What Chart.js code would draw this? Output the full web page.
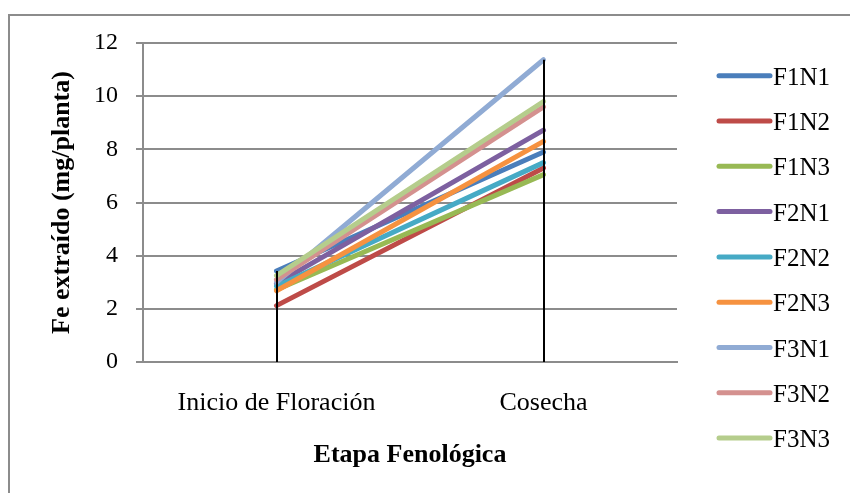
<!DOCTYPE html>
<html><head><meta charset="utf-8">
<script src="https://cdn.jsdelivr.net/npm/chart.js@4"></script>
<style>
html,body{margin:0;padding:0;background:#fff;overflow:hidden;width:850px;height:493px}
#frame{position:absolute;left:8px;top:14px;width:900px;height:600px;border-left:2px solid #8c8c8c;border-top:2px solid #8c8c8c}
#wrap{position:absolute;left:0;top:0;width:850px;height:493px}
</style></head><body>
<div id="frame"></div>
<div id="wrap"><canvas id="c" width="850" height="493"></canvas></div>
<script>
const categories = ['Inicio de Floración', 'Cosecha'];
const seriesNames = ['F1N1','F1N2','F1N3','F2N1','F2N2','F2N3','F3N1','F3N2','F3N3'];
const F1N1 = [3.42, 7.90];
const F1N2 = [2.12, 7.30];
const F1N3 = [2.72, 7.05];
const F2N1 = [2.95, 8.72];
const F2N2 = [2.85, 7.50];
const F2N3 = [2.68, 8.30];
const F3N1 = [3.00, 11.37];
const F3N2 = [3.10, 9.60];
const F3N3 = [3.25, 9.80];
const seriesValues = [F1N1, F1N2, F1N3, F2N1, F2N2, F2N3, F3N1, F3N2, F3N3];
const yTicks = [0, 2, 4, 6, 8, 10, 12];
const yTitle = 'Fe extraído (mg/planta)';
const xTitle = 'Etapa Fenológica';

const colors = ['#4a7ebb','#be4b48','#98b954','#7d60a0','#46aac5','#f69240','#90abd4','#d4918f','#b5cd8c'];
const FAM = "'Liberation Serif','Times New Roman',serif";

const datasets = seriesNames.map((n, i) => ({
  label: n,
  data: seriesValues[i],
  borderColor: colors[i],
  backgroundColor: colors[i],
  borderWidth: 5,
  pointRadius: 0,
  order: seriesNames.length - 1 - i
}));

const dropLines = {
  id: 'dropLines',
  afterDatasetsDraw(chart) {
    const {ctx, scales: {x, y}} = chart;
    ctx.save();
    ctx.strokeStyle = '#000';
    ctx.lineWidth = 2;
    categories.forEach((c, i) => {
      const maxV = Math.max(...chart.data.datasets.map(d => d.data[i]));
      const px = Math.round(x.getPixelForValue(i));
      ctx.beginPath();
      ctx.moveTo(px, y.getPixelForValue(maxV));
      ctx.lineTo(px, y.getPixelForValue(0));
      ctx.stroke();
    });
    ctx.restore();
  }
};

const customLegend = {
  id: 'customLegend',
  afterDraw(chart) {
    const ctx = chart.ctx;
    ctx.save();
    ctx.font = '25px ' + FAM;
    ctx.fillStyle = '#000';
    ctx.textBaseline = 'alphabetic';
    ctx.textAlign = 'left';
    chart.data.datasets.forEach((d, i) => {
      const cy = 75.7 + i * 45.3;
      ctx.strokeStyle = d.borderColor;
      ctx.lineWidth = 5;
      ctx.lineCap = 'round';
      ctx.beginPath();
      ctx.moveTo(719, cy);
      ctx.lineTo(770, cy);
      ctx.stroke();
      ctx.fillText(d.label, 773, cy + 9);
    });
    ctx.restore();
  }
};

new Chart(document.getElementById('c'), {
  type: 'line',
  data: { labels: categories, datasets },
  plugins: [dropLines, customLegend],
  options: {
    responsive: false,
    animation: false,
    devicePixelRatio: 1,
    layout: { padding: { left: 0, top: 43, right: 173, bottom: 0 } },
    plugins: { legend: { display: false }, tooltip: { enabled: false } },
    elements: { line: { tension: 0, borderCapStyle: 'round', borderJoinStyle: 'round' } },
    scales: {
      x: {
        type: 'category',
        offset: true,
        grid: { display: false, drawTicks: false, tickLength: 0 },
        border: { display: true, color: '#8c8c8c', width: 2 },
        ticks: { color: '#000', font: { family: FAM, size: 26 }, padding: 26, maxRotation: 0, autoSkip: false },
        title: { display: true, text: xTitle, color: '#000', font: { family: FAM, size: 26, weight: 'bold', lineHeight: 1 }, padding: { top: 0, bottom: 25 } },
        afterFit(s) { s.height = 131; }
      },
      y: {
        min: 0, max: 12,
        afterBuildTicks(s) { s.ticks = yTicks.map(v => ({ value: v })); },
        ticks: { color: '#000', font: { family: FAM, size: 24 }, padding: 18 },
        grid: { color: '#8c8c8c', lineWidth: 2, tickLength: 7 },
        border: { display: true, color: '#8c8c8c', width: 2 },
        title: { display: true, text: yTitle, color: '#000', font: { family: FAM, size: 26, weight: 'bold', lineHeight: 1 }, padding: { top: 49, bottom: 0 } },
        afterFit(s) { s.width = 143; }
      }
    }
  }
});
</script>
</body></html>
